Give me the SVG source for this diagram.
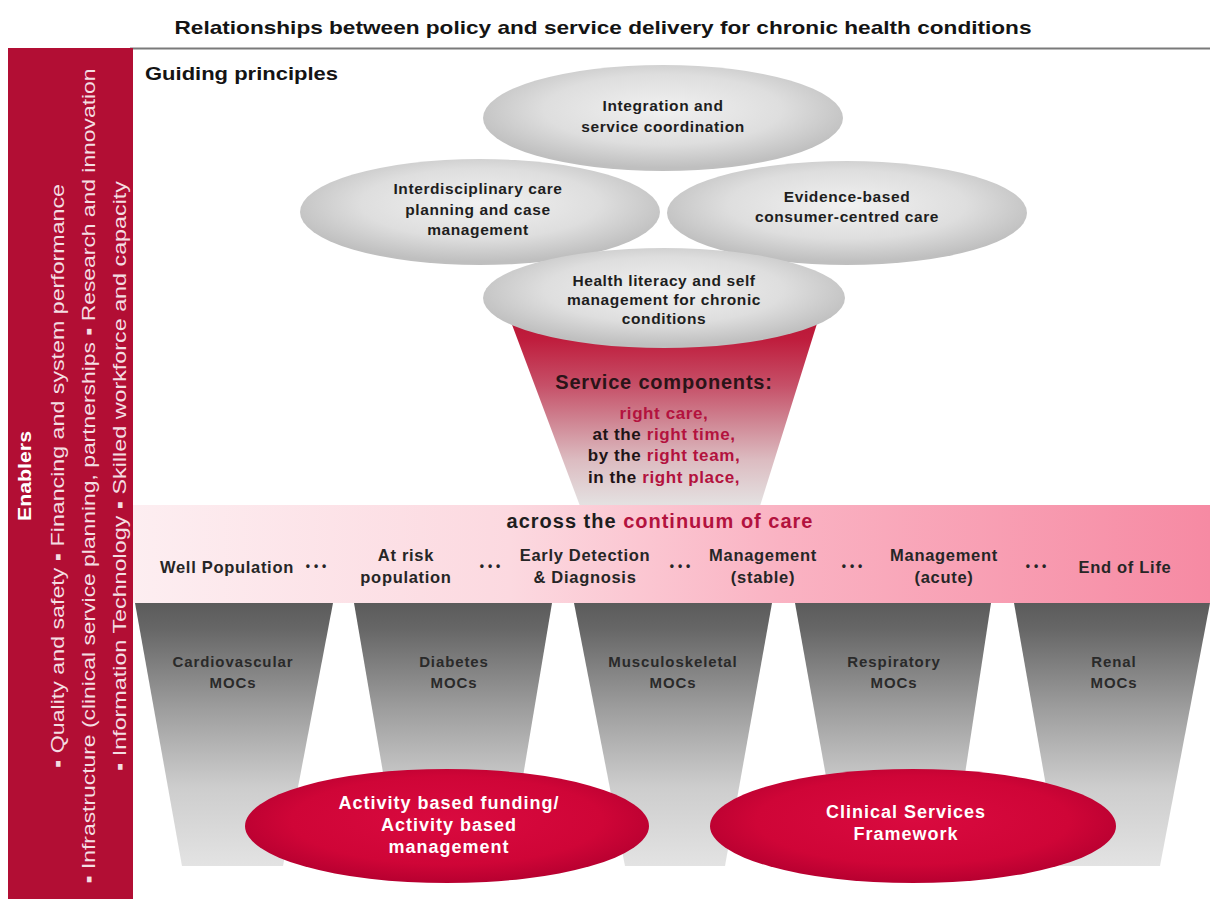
<svg xmlns="http://www.w3.org/2000/svg" width="1210" height="899" viewBox="0 0 1210 899">
  <style>
    text { font-family: "Liberation Sans", Arial, sans-serif; }
    .title { font-weight: bold; font-size: 19px; fill: #141414; }
    .head { font-weight: bold; font-size: 18px; fill: #141414; }
    .en { font-size: 18px; fill: #f4dde2; text-anchor: middle; }
    .enb { font-weight: bold; font-size: 18px; fill: #ffffff; text-anchor: middle; }
    .gp { font-weight: bold; font-size: 15.5px; letter-spacing: 0.6px; fill: #1e1e1e; text-anchor: middle; }
    .sc { font-weight: bold; font-size: 20px; letter-spacing: 0.8px; fill: #2a1418; text-anchor: middle; }
    .rc { font-weight: bold; font-size: 17px; letter-spacing: 0.6px; fill: #1e1416; text-anchor: middle; }
    .hl { fill: #b3123e; }
    .band { font-weight: bold; font-size: 20px; letter-spacing: 1px; fill: #1e1e1e; text-anchor: middle; }
    .lbl { font-weight: bold; font-size: 16.5px; letter-spacing: 0.7px; fill: #262626; text-anchor: middle; }
    .dots { font-weight: bold; font-size: 12px; letter-spacing: 4px; fill: #262626; text-anchor: middle; }
    .moc { font-weight: bold; font-size: 15px; letter-spacing: 0.9px; fill: #2a2a2a; text-anchor: middle; }
    .wt { font-weight: bold; font-size: 18px; letter-spacing: 1px; fill: #ffffff; text-anchor: middle; }
    .greyOval { fill: url(#greyOval); }
    .redOval { fill: url(#redOval); }
    .moCol { fill: url(#moColumn); }
  </style>
  <defs>
    <radialGradient id="greyOval" cx="0.5" cy="0.42" r="0.55">
      <stop offset="0" stop-color="#f1f1f1"/>
      <stop offset="0.6" stop-color="#dedede"/>
      <stop offset="1" stop-color="#bfbfbf"/>
    </radialGradient>
    <radialGradient id="redOval" cx="0.5" cy="0.45" r="0.55">
      <stop offset="0" stop-color="#d90a3f"/>
      <stop offset="0.7" stop-color="#cf0537"/>
      <stop offset="1" stop-color="#b70030"/>
    </radialGradient>
    <linearGradient id="cone" gradientUnits="userSpaceOnUse" x1="0" y1="298" x2="0" y2="506">
      <stop offset="0" stop-color="#b3102e"/>
      <stop offset="0.2" stop-color="#bf1d3d"/>
      <stop offset="0.42" stop-color="#c65068"/>
      <stop offset="0.59" stop-color="#cf8492"/>
      <stop offset="0.78" stop-color="#dcbcc1"/>
      <stop offset="1" stop-color="#e4e2e2"/>
    </linearGradient>
    <linearGradient id="bandFill" gradientUnits="userSpaceOnUse" x1="133" y1="0" x2="1210" y2="0">
      <stop offset="0" stop-color="#fdeef1"/>
      <stop offset="0.35" stop-color="#fcd9e0"/>
      <stop offset="0.6" stop-color="#fab3c3"/>
      <stop offset="1" stop-color="#f68aa3"/>
    </linearGradient>
    <linearGradient id="moColumn" gradientUnits="userSpaceOnUse" x1="0" y1="603" x2="0" y2="866">
      <stop offset="0" stop-color="#5b5b5b"/>
      <stop offset="0.1" stop-color="#676767"/>
      <stop offset="0.4" stop-color="#9d9d9d"/>
      <stop offset="0.7" stop-color="#cdcdcd"/>
      <stop offset="1" stop-color="#e3e3e3"/>
    </linearGradient>
  </defs>

  <rect width="1210" height="899" fill="#ffffff"/>

  <!-- heading and rule -->
  <g id="title">
    <text class="title" x="603" y="34" text-anchor="middle" textLength="857" lengthAdjust="spacingAndGlyphs">Relationships between policy and service delivery for chronic health conditions</text>
    <line x1="130" y1="48.5" x2="1210" y2="48.5" stroke="#7a7a7a" stroke-width="2"/>
  </g>

  <!-- enablers side bar -->
  <g id="enablers">
    <rect x="8" y="48" width="125" height="851" fill="#b20e34"/>
    <text class="enb" transform="translate(31,476) rotate(-90)" textLength="90" lengthAdjust="spacingAndGlyphs">Enablers</text>
    <text class="en" transform="translate(64,476) rotate(-90)" textLength="584" lengthAdjust="spacingAndGlyphs">▪ Quality and safety   ▪ Financing and system performance</text>
    <text class="en" transform="translate(95,476) rotate(-90)" textLength="815" lengthAdjust="spacingAndGlyphs">▪ Infrastructure (clinical service planning, partnerships   ▪ Research and innovation</text>
    <text class="en" transform="translate(126,476) rotate(-90)" textLength="590" lengthAdjust="spacingAndGlyphs">▪ Information Technology   ▪ Skilled workforce and capacity</text>
  </g>

  <g id="guiding-label">
    <text class="head" x="145" y="80" textLength="193" lengthAdjust="spacingAndGlyphs">Guiding principles</text>
  </g>

  <!-- guiding principles -->
  <g id="integration">
    <ellipse class="greyOval" cx="663" cy="118" rx="180" ry="53"/>
    <text class="gp" x="663" y="111">Integration and</text>
    <text class="gp" x="663" y="132">service coordination</text>
  </g>
  <g id="interdisciplinary">
    <ellipse class="greyOval" cx="480" cy="212" rx="180" ry="53"/>
    <text class="gp" x="478" y="194">Interdisciplinary care</text>
    <text class="gp" x="478" y="215">planning and case</text>
    <text class="gp" x="478" y="235">management</text>
  </g>
  <g id="evidence">
    <ellipse class="greyOval" cx="847" cy="213" rx="180" ry="52"/>
    <text class="gp" x="847" y="202">Evidence-based</text>
    <text class="gp" x="847" y="222">consumer-centred care</text>
  </g>

  <!-- service components funnel -->
  <g id="service-components">
    <polygon points="502,298 825,298 760,506 580,506" fill="url(#cone)"/>
    <text class="sc" x="664" y="389">Service components:</text>
    <text class="rc" x="664" y="419"><tspan class="hl">right care,</tspan></text>
    <text class="rc" x="664" y="440">at the <tspan class="hl">right time,</tspan></text>
    <text class="rc" x="664" y="461">by the <tspan class="hl">right team,</tspan></text>
    <text class="rc" x="664" y="483">in the <tspan class="hl">right place,</tspan></text>
  </g>

  <g id="health-literacy">
    <ellipse class="greyOval" cx="664" cy="298" rx="181" ry="50"/>
    <text class="gp" x="664" y="286">Health literacy and self</text>
    <text class="gp" x="664" y="305">management for chronic</text>
    <text class="gp" x="664" y="324">conditions</text>
  </g>

  <!-- continuum of care band -->
  <g id="continuum">
    <rect x="133" y="505" width="1077" height="98" fill="url(#bandFill)"/>
    <text class="band" x="660" y="528">across the <tspan class="hl">continuum of care</tspan></text>
    <text class="lbl" x="227" y="573">Well Population</text>
    <text class="dots" x="318" y="570">•••</text>
    <text class="lbl" x="406" y="561">At risk</text>
    <text class="lbl" x="406" y="583">population</text>
    <text class="dots" x="492" y="570">•••</text>
    <text class="lbl" x="585" y="561">Early Detection</text>
    <text class="lbl" x="585" y="583">&amp; Diagnosis</text>
    <text class="dots" x="682" y="570">•••</text>
    <text class="lbl" x="763" y="561">Management</text>
    <text class="lbl" x="763" y="583">(stable)</text>
    <text class="dots" x="854" y="570">•••</text>
    <text class="lbl" x="944" y="561">Management</text>
    <text class="lbl" x="944" y="583">(acute)</text>
    <text class="dots" x="1038" y="570">•••</text>
    <text class="lbl" x="1125" y="573">End of Life</text>
  </g>

  <!-- models of care columns -->
  <g id="moc-cardiovascular">
    <polygon class="moCol" points="135,603 333,603 283,866 182,866"/>
    <text class="moc" x="233" y="667">Cardiovascular</text>
    <text class="moc" x="233" y="688">MOCs</text>
  </g>
  <g id="moc-diabetes">
    <polygon class="moCol" points="354,603 552,603 508,866 399,866"/>
    <text class="moc" x="454" y="667">Diabetes</text>
    <text class="moc" x="454" y="688">MOCs</text>
  </g>
  <g id="moc-musculoskeletal">
    <polygon class="moCol" points="574,603 772,603 725,866 625,866"/>
    <text class="moc" x="673" y="667">Musculoskeletal</text>
    <text class="moc" x="673" y="688">MOCs</text>
  </g>
  <g id="moc-respiratory">
    <polygon class="moCol" points="795,603 991,603 951,866 842,866"/>
    <text class="moc" x="894" y="667">Respiratory</text>
    <text class="moc" x="894" y="688">MOCs</text>
  </g>
  <g id="moc-renal">
    <polygon class="moCol" points="1014,603 1210,603 1160,866 1060,866"/>
    <text class="moc" x="1114" y="667">Renal</text>
    <text class="moc" x="1114" y="688">MOCs</text>
  </g>

  <!-- funding and framework -->
  <g id="activity-based-funding">
    <ellipse class="redOval" cx="447" cy="826" rx="202" ry="57"/>
    <text class="wt" x="449" y="809">Activity based funding/</text>
    <text class="wt" x="449" y="831">Activity based</text>
    <text class="wt" x="449" y="853">management</text>
  </g>
  <g id="clinical-services-framework">
    <ellipse class="redOval" cx="913" cy="826" rx="203" ry="57"/>
    <text class="wt" x="906" y="818">Clinical Services</text>
    <text class="wt" x="906" y="840">Framework</text>
  </g>
</svg>
